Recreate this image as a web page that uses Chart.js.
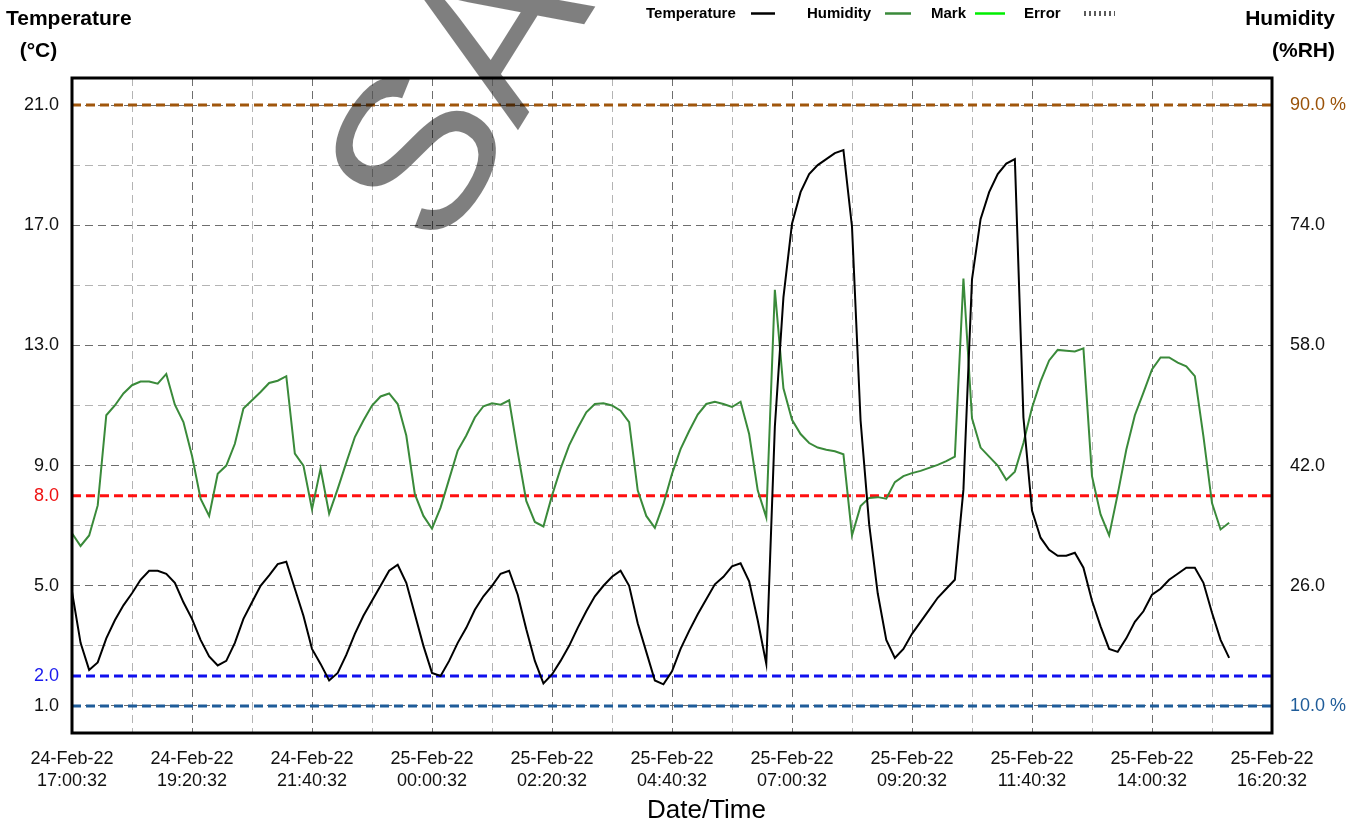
<!DOCTYPE html>
<html><head><meta charset="utf-8">
<script src="https://cdn.jsdelivr.net/npm/chart.js@4.4.1/dist/chart.umd.min.js"></script>
<style>html,body{margin:0;padding:0;background:#fff;}canvas{display:block;}</style>
</head><body>
<canvas id="c" width="1364" height="820"></canvas>
<script>
// ---- data (one reading every 10 minutes, starting 24-Feb-22 17:00:32) ----
const xTickLabels = [
  ['24-Feb-22','17:00:32'],['24-Feb-22','19:20:32'],['24-Feb-22','21:40:32'],
  ['25-Feb-22','00:00:32'],['25-Feb-22','02:20:32'],['25-Feb-22','04:40:32'],
  ['25-Feb-22','07:00:32'],['25-Feb-22','09:20:32'],['25-Feb-22','11:40:32'],
  ['25-Feb-22','14:00:32'],['25-Feb-22','16:20:32']
];
const temperature = [
  4.8,3.1,2.2,2.45,3.25,3.85,4.35,4.75,5.2,5.5,5.5,5.4,5.1,4.45,3.9,3.2,2.65,2.35,2.5,3.1,
  3.9,4.45,5.0,5.35,5.72,5.8,4.9,4.0,2.9,2.4,1.85,2.1,2.7,3.4,4.0,4.5,5.0,5.5,5.7,5.1,
  4.05,3.0,2.1,2.0,2.5,3.1,3.6,4.2,4.65,5.0,5.4,5.5,4.7,3.55,2.5,1.75,2.05,2.5,3.0,3.6,
  4.15,4.65,5.0,5.3,5.5,5.0,3.75,2.8,1.85,1.72,2.15,2.9,3.5,4.05,4.55,5.05,5.3,5.65,5.75,5.15,
  3.85,2.4,10.3,14.6,17.05,18.1,18.7,19.0,19.2,19.4,19.5,16.95,10.5,7.05,4.75,3.2,2.6,2.9,3.4,3.8,
  4.2,4.6,4.9,5.2,8.2,15.2,17.2,18.1,18.7,19.05,19.2,10.6,7.5,6.6,6.2,6.0,6.0,6.1,5.6,4.5,
  3.65,2.9,2.8,3.25,3.8,4.15,4.7,4.9,5.2,5.4,5.6,5.6,5.1,4.1,3.2,2.6
];
const humidity = [
  33.0,31.3,32.7,36.7,48.7,50.0,51.6,52.7,53.2,53.2,52.9,54.2,50.1,47.8,43.3,37.6,35.3,40.9,42.0,44.9,
  49.6,50.7,51.8,53.0,53.3,53.9,43.6,42.0,36.2,41.6,35.6,38.9,42.4,45.8,48.0,50.0,51.2,51.6,50.2,46.0,
  38.2,35.3,33.6,36.4,40.2,44.0,46.0,48.4,49.9,50.3,50.1,50.7,43.8,37.3,34.5,33.9,38.0,41.6,44.7,47.0,
  49.1,50.2,50.3,50.0,49.3,47.8,38.7,35.3,33.7,36.9,40.9,44.2,46.6,48.8,50.2,50.5,50.2,49.8,50.5,46.2,
  38.7,35.1,65.4,52.3,48.1,46.2,45.0,44.4,44.1,43.9,43.5,32.7,36.6,37.7,37.8,37.6,39.8,40.6,41.0,41.3,
  41.7,42.1,42.6,43.2,66.9,48.3,44.4,43.2,42.0,40.1,41.2,45.0,49.7,53.2,56.0,57.4,57.3,57.2,57.6,40.6,
  35.5,32.7,38.2,44.1,48.7,51.7,54.8,56.4,56.4,55.7,55.2,53.9,45.9,37.0,33.5,34.4
];
const tempTickValues = [1,5,9,13,17,21];
const tempMinorValues = [3,7,11,15,19];
const tempLimitHigh = 8;      // red alarm
const tempLimitLow = 2;       // blue alarm
const humTickValues = [10,26,42,58,74,90];
const humLimitHigh = 90;
const humLimitLow = 10;
const xSpan = 140;            // number of 10-minute steps on the axis

// ---- chart ----
const FONT = "'Liberation Sans', Arial, sans-serif";
const idx = a => a.map((v,i)=>({x:i,y:v}));
const hline = v => [{x:0,y:v},{x:xSpan,y:v}];
const DARK = '#6e6e6e', LIGHT = '#b4b4b4';

const decor = {
  id:'decor',
  beforeDraw(chart){
    const c = chart.ctx; c.save(); c.fillStyle='#fff'; c.fillRect(0,0,chart.width,chart.height); c.restore();
  },
  afterDatasetsDraw(chart){
    const c = chart.ctx, a = chart.chartArea;
    c.save(); c.strokeStyle='#000'; c.lineWidth=3;
    c.strokeRect(a.left, a.top, a.right-a.left, a.bottom-a.top); c.restore();
  },
  afterDraw(chart){
    const c = chart.ctx;
    c.save();
    c.fillStyle='#000'; c.textBaseline='alphabetic';
    c.font = 'bold 21px ' + FONT;
    c.textAlign='left'; c.fillText('Temperature', 6, 25);
    c.textAlign='center'; c.fillText('(°C)', 38.5, 57);
    c.textAlign='right'; c.fillText('Humidity', 1335, 25); c.fillText('(%RH)', 1335, 57);
    c.font = '26px ' + FONT; c.textAlign='center'; c.fillText('Date/Time', 706.5, 818);
    // legend
    c.font = 'bold 15px ' + FONT; c.textAlign='left'; c.textBaseline='middle';
    const items = [
      {t:'Temperature', x:646, l:[751,775], col:'#000', w:2.5, dash:[]},
      {t:'Humidity', x:807, l:[885,911], col:'#3a8a3a', w:2.5, dash:[]},
      {t:'Mark', x:931, l:[975,1005], col:'#00ee00', w:2.5, dash:[]},
      {t:'Error', x:1024, l:[1084,1115], col:'#5a5a5a', w:5, dash:[2,3]}
    ];
    items.forEach(it=>{
      c.fillStyle='#000'; c.fillText(it.t, it.x, 14);
      c.beginPath(); c.strokeStyle=it.col; c.lineWidth=it.w; c.setLineDash(it.dash);
      c.moveTo(it.l[0], 13.5); c.lineTo(it.l[1], 13.5); c.stroke(); c.setLineDash([]);
    });
    // watermark
    c.translate(440, 255); c.rotate(-58*Math.PI/180);
    c.font = '220px ' + FONT; c.textAlign='left'; c.textBaseline='alphabetic';
    c.fillStyle='rgba(0,0,0,0.5)'; c.fillText('SAMPLE', 0, 0);
    c.restore();
  }
};

new Chart(document.getElementById('c'), {
  type:'line',
  data:{ datasets:[
    {label:'Temperature', data:idx(temperature), yAxisID:'y', borderColor:'#000', borderWidth:2, pointRadius:0, tension:0, order:1},
    {label:'Humidity', data:idx(humidity), yAxisID:'y1', borderColor:'#3a8a3a', borderWidth:2, pointRadius:0, tension:0, order:2},
    {label:'Mark', data:[], yAxisID:'y', borderColor:'#00ee00', borderWidth:2, pointRadius:0, order:3},
    {label:'Error', data:[], yAxisID:'y', borderColor:'#7a7a7a', borderWidth:2, pointRadius:0, order:3},
    {label:'hiT', data:hline(tempLimitHigh), yAxisID:'y', borderColor:'#ff1010', borderWidth:3, borderDash:[9,5], pointRadius:0, order:5},
    {label:'loT', data:hline(tempLimitLow), yAxisID:'y', borderColor:'#1010ee', borderWidth:3, borderDash:[9,5], pointRadius:0, order:5},
    {label:'hiH', data:hline(humLimitHigh), yAxisID:'y1', borderColor:'#a0560c', borderWidth:3, borderDash:[9,5], pointRadius:0, order:5},
    {label:'loH', data:hline(humLimitLow), yAxisID:'y1', borderColor:'#1f5c99', borderWidth:3, borderDash:[9,5], pointRadius:0, order:5}
  ]},
  plugins:[decor],
  options:{
    responsive:false, animation:false, devicePixelRatio:1,
    layout:{padding:{top:78,left:0,right:0,bottom:0}},
    plugins:{legend:{display:false}, tooltip:{enabled:false}},
    scales:{
      x:{ type:'linear', min:0, max:xSpan,
        afterBuildTicks: s => { const t=[]; for(let v=0; v<=xSpan; v+=7) t.push({value:v}); s.ticks=t; },
        afterFit: s => { s.height = 87; },
        ticks:{ autoSkip:false, maxRotation:0, padding:16, color:'#111',
          font:{family:FONT, size:18, lineHeight:1.17},
          callback: v => (v % 14 === 0 ? xTickLabels[v/14] : '') },
        grid:{ drawTicks:false, lineWidth:1, color: c => (c.tick && c.tick.value % 14 === 0 ? DARK : LIGHT) },
        border:{ display:false, dash:[8,5] }
      },
      y:{ type:'linear', position:'left', min:0.1, max:21.9,
        afterBuildTicks: s => { s.ticks = [...tempTickValues, ...tempMinorValues, tempLimitHigh, tempLimitLow].sort((a,b)=>a-b).map(v=>({value:v})); },
        afterFit: s => { s.width = 72; },
        ticks:{ autoSkip:false, padding:13, font:{family:FONT, size:18},
          color: c => (c.tick.value === tempLimitHigh ? '#ee1111' : c.tick.value === tempLimitLow ? '#1a1aee' : '#111'),
          callback: v => (tempTickValues.includes(v) || v === tempLimitHigh || v === tempLimitLow ? v.toFixed(1) : '') },
        grid:{ drawTicks:false, lineWidth:1,
          color: c => { const v = c.tick && c.tick.value; if (v === tempLimitHigh || v === tempLimitLow) return 'rgba(0,0,0,0)'; return tempTickValues.includes(v) ? DARK : LIGHT; } },
        border:{ display:false, dash:[8,5] }
      },
      y1:{ type:'linear', position:'right', min:6.4, max:93.6,
        afterBuildTicks: s => { s.ticks = humTickValues.map(v=>({value:v})); },
        afterFit: s => { s.width = 92; },
        ticks:{ autoSkip:false, padding:18, font:{family:FONT, size:18},
          color: c => (c.tick.value === humLimitHigh ? '#9a5208' : c.tick.value === humLimitLow ? '#1f5c99' : '#111'),
          callback: v => (v === humLimitHigh || v === humLimitLow ? v.toFixed(1) + ' %' : v.toFixed(1)) },
        grid:{ display:false, drawTicks:false },
        border:{ display:false }
      }
    }
  }
});
</script>
</body></html>
